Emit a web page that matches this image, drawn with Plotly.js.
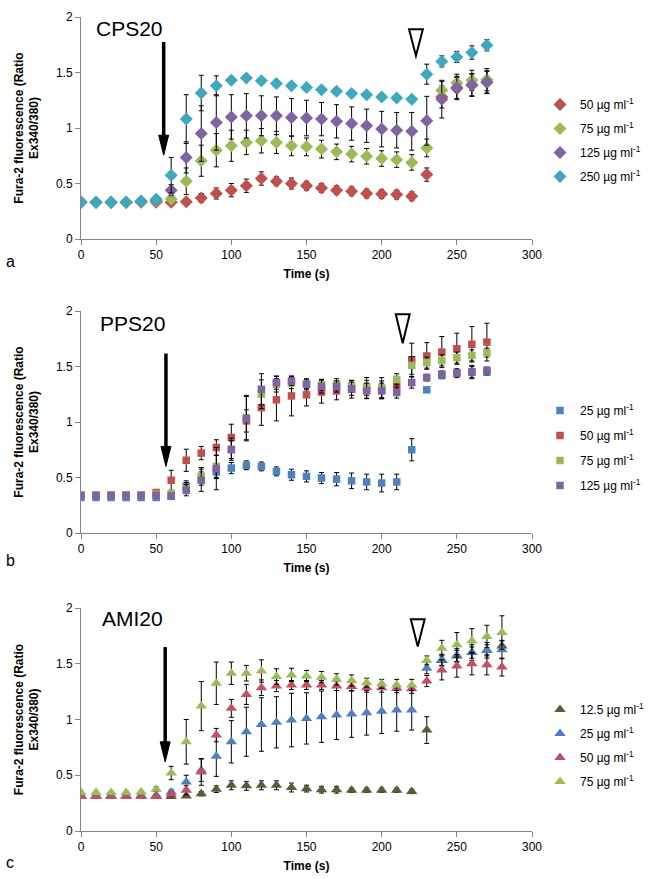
<!DOCTYPE html>
<html>
<head>
<meta charset="utf-8">
<script src="https://cdn.plot.ly/plotly-3.0.1.min.js"></script>
<style>html,body{margin:0;padding:0;background:#fff;}#chart{width:651px;height:879px;}</style>
</head>
<body>
<div id="chart"></div>
<script>
// ---------- Data ----------
var timeA = [0,10,20,30,40,50,60,70,80,90,100,110,120,130,140,150,160,170,180,190,200,210,220,230,240,250,260,270];
var timeB = [0,10,20,30,40,50,60,70,80,90,100,110,120,130,140,150,160,170,180,190,200,210,220,230,240,250,260,270];
var timeC = [0,10,20,30,40,50,60,70,80,90,100,110,120,130,140,150,160,170,180,190,200,210,220,230,240,250,260,270,280];

var xTicks = [0,50,100,150,200,250,300];
var yTicks = [0,0.5,1,1.5,2];

// Panel a: CPS20
var cpsLabels = ['50 µg ml<sup>-1</sup>','75 µg ml<sup>-1</sup>','125 µg ml<sup>-1</sup>','250 µg ml<sup>-1</sup>'];
var cps50  = [0.335,0.33,0.33,0.33,0.33,0.33,0.33,0.335,0.37,0.41,0.44,0.48,0.545,0.52,0.50,0.48,0.46,0.44,0.43,0.41,0.405,0.40,0.385,0.58,1.28,1.355,1.385,1.41];
var cps50e = [0.01,0.01,0.01,0.01,0.01,0.01,0.02,0.03,0.04,0.05,0.06,0.06,0.06,0.04,0.05,0.04,0.04,0.04,0.04,0.04,0.04,0.04,0.04,0.06,0.1,0.1,0.1,0.1];
var cps75  = [0.33,0.33,0.33,0.33,0.34,0.34,0.36,0.52,0.705,0.80,0.84,0.87,0.885,0.87,0.84,0.83,0.81,0.785,0.765,0.745,0.725,0.715,0.69,0.82,1.34,1.405,1.43,1.435];
var cps75e = [0.01,0.01,0.01,0.01,0.01,0.01,0.02,0.12,0.14,0.15,0.14,0.11,0.11,0.1,0.09,0.08,0.08,0.07,0.07,0.07,0.07,0.07,0.07,0.08,0.08,0.08,0.09,0.1];
var cps125  = [0.33,0.33,0.33,0.33,0.34,0.35,0.44,0.735,0.95,1.05,1.10,1.11,1.11,1.11,1.095,1.09,1.08,1.06,1.04,1.02,0.99,0.98,0.97,1.065,1.26,1.365,1.39,1.415];
var cps125e = [0.01,0.01,0.01,0.01,0.01,0.02,0.05,0.14,0.25,0.25,0.2,0.2,0.18,0.17,0.17,0.16,0.15,0.15,0.15,0.15,0.16,0.16,0.17,0.22,0.17,0.1,0.1,0.1];
var cps250  = [0.33,0.33,0.33,0.33,0.34,0.357,0.575,1.08,1.315,1.38,1.43,1.45,1.425,1.40,1.38,1.365,1.345,1.33,1.31,1.30,1.28,1.27,1.26,1.485,1.60,1.64,1.68,1.745];
var cps250e = [0.01,0.01,0.01,0.01,0.01,0.02,0.16,0.22,0.16,0.09,0.02,0.02,0.02,0.02,0.02,0.02,0.02,0.02,0.02,0.02,0.02,0.02,0.02,0.09,0.05,0.05,0.06,0.05];

// Panel b: PPS20
var ppsLabels = ['25 µg ml<sup>-1</sup>','50 µg ml<sup>-1</sup>','75 µg ml<sup>-1</sup>','125 µg ml<sup>-1</sup>'];
var pps25  = [0.32,0.32,0.32,0.32,0.32,0.32,0.33,0.42,0.50,0.55,0.585,0.61,0.60,0.555,0.525,0.51,0.495,0.485,0.47,0.46,0.45,0.46,0.75,1.29,1.42,1.44,1.45,1.45];
var pps25e = [0.02,0.02,0.02,0.02,0.02,0.02,0.02,0.05,0.05,0.06,0.05,0.04,0.04,0.04,0.05,0.05,0.05,0.06,0.07,0.07,0.08,0.07,0.1,0.02,0.03,0.03,0.05,0.03];
var pps50  = [0.34,0.34,0.34,0.34,0.34,0.365,0.475,0.655,0.72,0.77,0.86,1.01,1.13,1.20,1.235,1.245,1.27,1.28,1.295,1.295,1.29,1.32,1.56,1.595,1.63,1.66,1.70,1.72];
var pps50e = [0.01,0.01,0.01,0.01,0.01,0.02,0.09,0.1,0.06,0.07,0.12,0.1,0.16,0.19,0.18,0.1,0.1,0.08,0.08,0.08,0.08,0.08,0.15,0.12,0.14,0.14,0.16,0.17];
var pps75  = [0.34,0.34,0.34,0.34,0.34,0.35,0.355,0.405,0.51,0.60,0.755,1.04,1.25,1.34,1.35,1.34,1.335,1.34,1.325,1.32,1.31,1.385,1.51,1.535,1.555,1.58,1.60,1.625];
var pps75e = [0.01,0.01,0.01,0.01,0.01,0.01,0.02,0.05,0.08,0.1,0.1,0.2,0.13,0.07,0.05,0.05,0.05,0.05,0.05,0.08,0.09,0.05,0.08,0.05,0.05,0.05,0.05,0.04];
var pps125  = [0.34,0.34,0.34,0.34,0.34,0.34,0.335,0.385,0.475,0.58,0.75,1.03,1.295,1.355,1.37,1.34,1.32,1.32,1.30,1.28,1.28,1.265,1.355,1.40,1.43,1.44,1.45,1.465];
var pps125e = [0.01,0.01,0.01,0.01,0.01,0.01,0.02,0.05,0.1,0.19,0.08,0.2,0.14,0.06,0.04,0.04,0.06,0.05,0.06,0.07,0.07,0.05,0.05,0.03,0.03,0.04,0.06,0.03];

// Panel c: AMI20
var amiLabels = ['12.5 µg ml<sup>-1</sup>','25 µg ml<sup>-1</sup>','50 µg ml<sup>-1</sup>','75 µg ml<sup>-1</sup>'];
var ami12  = [0.31,0.31,0.31,0.31,0.31,0.31,0.31,0.315,0.335,0.375,0.41,0.405,0.41,0.41,0.39,0.38,0.37,0.37,0.365,0.365,0.365,0.365,0.355,0.905,1.53,1.57,1.60,1.62,1.66];
var ami12e = [0.01,0.01,0.01,0.01,0.01,0.01,0.01,0.01,0.02,0.03,0.04,0.04,0.04,0.04,0.04,0.03,0.03,0.03,0.02,0.02,0.02,0.02,0.02,0.12,0.05,0.05,0.05,0.05,0.05];
var ami25  = [0.32,0.32,0.32,0.32,0.32,0.32,0.35,0.44,0.545,0.67,0.80,0.89,0.955,0.975,0.995,1.01,1.025,1.04,1.05,1.06,1.075,1.085,1.085,1.46,1.535,1.575,1.60,1.62,1.625];
var ami25e = [0.01,0.01,0.01,0.01,0.01,0.01,0.02,0.06,0.1,0.18,0.19,0.22,0.24,0.23,0.24,0.23,0.23,0.22,0.21,0.2,0.2,0.19,0.18,0.05,0.05,0.06,0.07,0.07,0.08];
var ami50  = [0.31,0.31,0.31,0.31,0.31,0.31,0.33,0.365,0.53,0.86,1.10,1.225,1.285,1.30,1.31,1.31,1.31,1.30,1.295,1.285,1.285,1.28,1.275,1.345,1.445,1.48,1.50,1.49,1.47];
var ami50e = [0.01,0.01,0.01,0.01,0.01,0.01,0.02,0.04,0.12,0.06,0.08,0.09,0.07,0.05,0.04,0.04,0.04,0.04,0.04,0.04,0.04,0.04,0.04,0.05,0.09,0.1,0.1,0.09,0.08];
var ami75  = [0.345,0.345,0.345,0.345,0.35,0.375,0.52,0.80,1.12,1.325,1.415,1.415,1.435,1.385,1.40,1.39,1.38,1.36,1.35,1.33,1.32,1.31,1.31,1.53,1.64,1.67,1.705,1.745,1.78];
var ami75e = [0.01,0.01,0.01,0.01,0.01,0.02,0.06,0.2,0.22,0.19,0.1,0.07,0.1,0.07,0.06,0.05,0.05,0.05,0.05,0.04,0.04,0.05,0.05,0.04,0.07,0.11,0.11,0.1,0.15];

// ---------- Styling ----------
var FONT = 'Liberation Sans, Arial, Helvetica, sans-serif';
var cRed = '#C0504D', cGreen = '#9BBB59', cPurple = '#8064A2', cTeal = '#3FA8BE', cBlue = '#4F81BD', cOlive = '#5E5A36', cPink = '#C24F62';

function series(x, y, e, name, color, symbol, size, xa, ya, leg) {
  return {
    type: 'scatter', mode: 'markers', x: x, y: y, name: name,
    xaxis: xa, yaxis: ya, legend: leg, legendgroup: leg + name,
    marker: {color: color, symbol: symbol, size: size, line: {width: 0}},
    error_y: {type: 'data', array: e, visible: true, color: '#000', thickness: 1, width: 2.5}
  };
}

var data = [
  series(timeA, cps50, cps50e, cpsLabels[0], cRed, 'diamond', 10, 'x', 'y', 'legend'),
  series(timeA, cps75, cps75e, cpsLabels[1], cGreen, 'diamond', 10, 'x', 'y', 'legend'),
  series(timeA, cps125, cps125e, cpsLabels[2], cPurple, 'diamond', 10, 'x', 'y', 'legend'),
  series(timeA, cps250, cps250e, cpsLabels[3], cTeal, 'diamond', 10, 'x', 'y', 'legend'),
  series(timeB, pps25, pps25e, ppsLabels[0], cBlue, 'square', 7.5, 'x2', 'y2', 'legend2'),
  series(timeB, pps50, pps50e, ppsLabels[1], cRed, 'square', 7.5, 'x2', 'y2', 'legend2'),
  series(timeB, pps75, pps75e, ppsLabels[2], cGreen, 'square', 7.5, 'x2', 'y2', 'legend2'),
  series(timeB, pps125, pps125e, ppsLabels[3], cPurple, 'square', 7.5, 'x2', 'y2', 'legend2'),
  series(timeC, ami12, ami12e, amiLabels[0], cOlive, 'triangle-up', 10, 'x3', 'y3', 'legend3'),
  series(timeC, ami25, ami25e, amiLabels[1], cBlue, 'triangle-up', 10, 'x3', 'y3', 'legend3'),
  series(timeC, ami50, ami50e, amiLabels[2], cPink, 'triangle-up', 10, 'x3', 'y3', 'legend3'),
  series(timeC, ami75, ami75e, amiLabels[3], cGreen, 'triangle-up', 10, 'x3', 'y3', 'legend3')
];

var W = 651, H = 879;
function py(p) { return 1 - p / H; }
var xDom = [81 / W, 532 / W];

function xAxis(anchor) {
  return {
    domain: xDom, anchor: anchor, range: [0, 300], tickvals: xTicks,
    showline: true, linecolor: '#868686', linewidth: 1, mirror: false,
    ticks: 'outside', ticklen: 5, tickcolor: '#868686', showgrid: false, zeroline: false,
    tickfont: {family: FONT, size: 12, color: '#000'},
    title: {text: '<b>Time (s)</b>', font: {family: FONT, size: 12, color: '#000'}, standoff: 8}
  };
}
function yAxis(anchor, dom) {
  return {
    domain: dom, anchor: anchor, range: [0, 2], tickvals: yTicks,
    showline: true, linecolor: '#868686', linewidth: 1,
    ticks: 'outside', ticklen: 5, tickcolor: '#868686', showgrid: false, zeroline: false,
    tickfont: {family: FONT, size: 12, color: '#000'},
    title: {text: '<b>Fura-2 fluorescence (Ratio<br>Ex340/380)</b>', font: {family: FONT, size: 12, color: '#000'}, standoff: 14}
  };
}

function legendAt(topPx, gap) {
  return {
    x: 540 / W, xanchor: 'left', y: py(topPx), yanchor: 'top',
    font: {family: FONT, size: 12, color: '#000'},
    bgcolor: 'rgba(0,0,0,0)', borderwidth: 0,
    itemsizing: 'trace', itemwidth: 30, tracegroupgap: gap, traceorder: 'grouped'
  };
}

// Decorations: arrows (black) and open triangles
function arrow(xr, yr, x, yTop, yTip) {
  var headH = 0.18, headW = 3.3;
  return [
    {type: 'line', xref: xr, yref: yr, x0: x, x1: x, y0: yTop, y1: yTip + headH * 0.9, line: {color: '#000', width: 3.5}},
    {type: 'path', xref: xr, yref: yr,
     path: 'M ' + (x - headW) + ',' + (yTip + headH) + ' L ' + (x + headW) + ',' + (yTip + headH) + ' L ' + x + ',' + yTip + ' Z',
     fillcolor: '#000', line: {color: '#000', width: 1}}
  ];
}
function openTri(xr, yr, x, yTop, yBot) {
  var hw = 4.6;
  return {type: 'path', xref: xr, yref: yr,
    path: 'M ' + (x - hw) + ',' + yTop + ' L ' + (x + hw) + ',' + yTop + ' L ' + x + ',' + yBot + ' Z',
    fillcolor: 'rgba(255,255,255,0)', line: {color: '#000', width: 2}};
}

var shapes = [].concat(
  arrow('x', 'y', 55, 1.775, 0.755),
  arrow('x2', 'y2', 56.5, 1.617, 0.60),
  arrow('x3', 'y3', 56, 1.65, 0.62),
  [openTri('x', 'y', 222.8, 1.89, 1.65),
   openTri('x2', 'y2', 214, 1.97, 1.71),
   openTri('x3', 'y3', 224, 1.90, 1.655)]
);

var annotations = [
  {xref: 'x', yref: 'y', x: 32, y: 1.90, text: 'CPS20', showarrow: false, font: {family: FONT, size: 21, color: '#000'}},
  {xref: 'x2', yref: 'y2', x: 34, y: 1.89, text: 'PPS20', showarrow: false, font: {family: FONT, size: 21, color: '#000'}},
  {xref: 'x3', yref: 'y3', x: 34, y: 1.91, text: 'AMI20', showarrow: false, font: {family: FONT, size: 21, color: '#000'}},
  {xref: 'paper', yref: 'paper', x: 4 / W, y: py(262), xanchor: 'left', yanchor: 'middle', text: 'a', showarrow: false, font: {family: FONT, size: 16, color: '#000'}},
  {xref: 'paper', yref: 'paper', x: 4 / W, y: py(560), xanchor: 'left', yanchor: 'middle', text: 'b', showarrow: false, font: {family: FONT, size: 16, color: '#000'}},
  {xref: 'paper', yref: 'paper', x: 4 / W, y: py(862), xanchor: 'left', yanchor: 'middle', text: 'c', showarrow: false, font: {family: FONT, size: 16, color: '#000'}}
];

var layout = {
  width: W, height: H,
  margin: {l: 0, r: 0, t: 0, b: 0},
  paper_bgcolor: '#fff', plot_bgcolor: '#fff',
  font: {family: FONT, size: 12, color: '#000'},
  showlegend: true,
  xaxis: xAxis('y'), yaxis: yAxis('x', [py(239), py(17)]),
  xaxis2: xAxis('y2'), yaxis2: yAxis('x2', [py(533), py(311)]),
  xaxis3: xAxis('y3'), yaxis3: yAxis('x3', [py(831), py(608)]),
  legend: legendAt(90, 5),
  legend2: legendAt(396, 6),
  legend3: legendAt(695, 5),
  shapes: shapes,
  annotations: annotations
};

Plotly.newPlot('chart', data, layout, {displayModeBar: false, staticPlot: true});
</script>
</body>
</html>
